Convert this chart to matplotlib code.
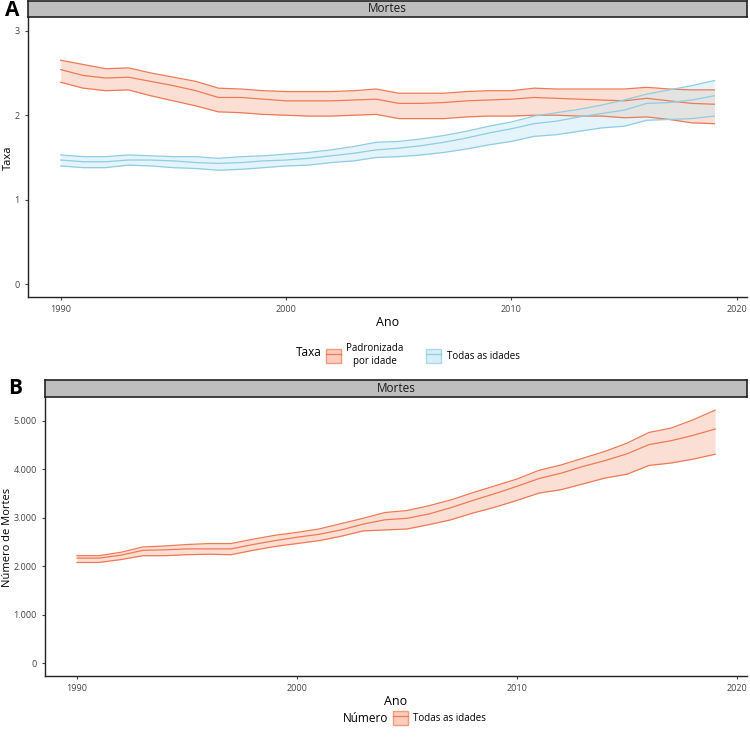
import numpy as np
import matplotlib.pyplot as plt
from matplotlib.lines import Line2D

years = np.arange(1990, 2020)

# Panel A - taxa padronizada por idade
pad_hi = [2.65, 2.60, 2.55, 2.56, 2.50, 2.45, 2.40, 2.32, 2.31, 2.29, 2.28, 2.28, 2.28, 2.29, 2.31,
          2.26, 2.26, 2.26, 2.28, 2.29, 2.29, 2.32, 2.31, 2.31, 2.31, 2.31, 2.33, 2.31, 2.30, 2.30]
pad_mid = [2.54, 2.47, 2.44, 2.45, 2.40, 2.35, 2.29, 2.21, 2.21, 2.19, 2.17, 2.17, 2.17, 2.18, 2.19,
           2.14, 2.14, 2.15, 2.17, 2.18, 2.19, 2.21, 2.20, 2.19, 2.18, 2.17, 2.20, 2.17, 2.14, 2.13]
pad_lo = [2.39, 2.32, 2.29, 2.30, 2.23, 2.17, 2.11, 2.04, 2.03, 2.01, 2.00, 1.99, 1.99, 2.00, 2.01,
          1.96, 1.96, 1.96, 1.98, 1.99, 1.99, 2.00, 2.00, 1.99, 1.99, 1.97, 1.98, 1.95, 1.91, 1.90]

# Panel A - taxa todas as idades
tod_hi = [1.53, 1.51, 1.51, 1.53, 1.52, 1.51, 1.51, 1.49, 1.51, 1.52, 1.54, 1.56, 1.59, 1.63, 1.68,
          1.69, 1.72, 1.76, 1.81, 1.87, 1.92, 1.99, 2.03, 2.07, 2.12, 2.18, 2.25, 2.30, 2.35, 2.41]
tod_mid = [1.47, 1.45, 1.45, 1.47, 1.47, 1.46, 1.44, 1.43, 1.44, 1.46, 1.47, 1.49, 1.52, 1.55, 1.59,
           1.61, 1.64, 1.68, 1.73, 1.79, 1.84, 1.90, 1.93, 1.98, 2.02, 2.06, 2.14, 2.15, 2.18, 2.23]
tod_lo = [1.40, 1.38, 1.38, 1.41, 1.40, 1.38, 1.37, 1.35, 1.36, 1.38, 1.40, 1.41, 1.44, 1.46, 1.50,
          1.51, 1.53, 1.56, 1.60, 1.65, 1.69, 1.75, 1.77, 1.81, 1.85, 1.87, 1.94, 1.95, 1.96, 1.99]

# Panel B - numero de mortes
num_hi = [2220, 2220, 2290, 2400, 2420, 2450, 2470, 2470, 2560, 2640, 2700, 2770, 2880, 2990, 3110,
          3150, 3250, 3370, 3520, 3660, 3800, 3980, 4090, 4230, 4370, 4540, 4760, 4850, 5020, 5220]
num_mid = [2170, 2170, 2230, 2330, 2340, 2360, 2360, 2360, 2450, 2530, 2600, 2660, 2750, 2870, 2960,
           2990, 3080, 3210, 3360, 3500, 3650, 3810, 3920, 4060, 4180, 4320, 4510, 4590, 4700, 4830]
num_lo = [2080, 2080, 2140, 2220, 2220, 2240, 2250, 2240, 2330, 2410, 2470, 2530, 2620, 2730, 2750,
          2770, 2860, 2960, 3100, 3220, 3360, 3510, 3580, 3700, 3820, 3900, 4080, 4130, 4210, 4310]

red = '#EE7A55'
red_fill = '#F9B9A0'
blue = '#8ECDE3'
blue_fill = '#C5E8F5'

plt.rcParams['font.family'] = ['Open Sans', 'DejaVu Sans']

fig = plt.figure(figsize=(7.5, 7.41), dpi=100)


def style_axes(ax):
    for s in ['top', 'right']:
        ax.spines[s].set_visible(False)
    for s in ['left', 'bottom']:
        ax.spines[s].set_linewidth(1.0)
        ax.spines[s].set_color('#222222')
    ax.tick_params(axis='both', labelsize=6.5, colors='#444444', length=2.5, width=0.8)
    ax.set_xlim(1988.55, 2020.45)
    ax.set_xticks([1990, 2000, 2010, 2020])


def add_strip(left, bottom, width, height):
    sa = fig.add_axes([left, bottom, width, height])
    sa.set_facecolor('#BEBEBE')
    sa.set_xticks([])
    sa.set_yticks([])
    for s in sa.spines.values():
        s.set_linewidth(1.2)
        s.set_color('#222222')
    sa.text(0.5, 0.5, 'Mortes', ha='center', va='center', fontsize=8.5,
            color='#1a1a1a', transform=sa.transAxes)


def band(ax, lo, mid, hi, line, fill):
    ax.fill_between(years, lo, hi, color=fill, alpha=0.45, lw=0)
    for s in (lo, mid, hi):
        ax.plot(years, s, color=line, lw=0.9)


def key(line, fill):
    return (plt.Rectangle((0, 0), 1, 1, fc=fill, ec=line, alpha=0.7, lw=1.0),
            Line2D([], [], color=line, lw=0.9))


# ---- Panel A ----
axA = fig.add_axes([28 / 750, 1 - 297 / 741, 719 / 750, 279 / 741])
style_axes(axA)
band(axA, pad_lo, pad_mid, pad_hi, red, red_fill)
band(axA, tod_lo, tod_mid, tod_hi, blue, blue_fill)
axA.set_ylim(-0.15, 3.15)
axA.set_yticks([0, 1, 2, 3])
axA.set_xlabel('Ano', fontsize=9, labelpad=1)
axA.set_ylabel('Taxa', fontsize=8)
axA.yaxis.set_label_coords(-0.02, 0.5)
add_strip(28 / 750, 1 - 17 / 741, 719 / 750, 16 / 741)
fig.text(5 / 750, 1 - 10 / 741, 'A', fontsize=15, fontweight='bold', va='center')

# legend A
legA = fig.legend([key(red, red_fill), key(blue, blue_fill)], ['Padronizada\npor idade', 'Todas as idades'],
                  loc='center left', bbox_to_anchor=(326 / 750, 1 - 355 / 741), ncol=2,
                  frameon=False, fontsize=7, handlelength=1.5, handleheight=1.9,
                  columnspacing=2.3, handletextpad=0.6, borderpad=0, borderaxespad=0)
legA.get_texts()[0].set_multialignment('center')
fig.text(322 / 750, 1 - 353 / 741, 'Taxa', ha='right', va='center', fontsize=8.5)

# ---- Panel B ----
axB = fig.add_axes([45 / 750, 1 - 676 / 741, 702 / 750, 278 / 741])
style_axes(axB)
band(axB, num_lo, num_mid, num_hi, red, red_fill)
axB.set_ylim(-260, 5470)
axB.set_yticks([0, 1000, 2000, 3000, 4000, 5000])
axB.set_yticklabels(['0', '1.000', '2.000', '3.000', '4.000', '5.000'])
axB.set_xlabel('Ano', fontsize=9, labelpad=1)
axB.set_ylabel('Número de Mortes', fontsize=8)
axB.yaxis.set_label_coords(-0.046, 0.5)
add_strip(45 / 750, 1 - 397 / 741, 702 / 750, 17 / 741)
fig.text(8 / 750, 1 - 389 / 741, 'B', fontsize=15, fontweight='bold', va='center')

fig.legend([key(red, red_fill)], ['Todas as idades'],
           loc='center left', bbox_to_anchor=(393 / 750, 1 - 718 / 741),
           frameon=False, fontsize=7, handlelength=1.5, handleheight=1.9,
           handletextpad=0.6, borderpad=0, borderaxespad=0)
fig.text(388 / 750, 1 - 718 / 741, 'Número', ha='right', va='center', fontsize=8.5)

fig.savefig('out.png', dpi=100)
